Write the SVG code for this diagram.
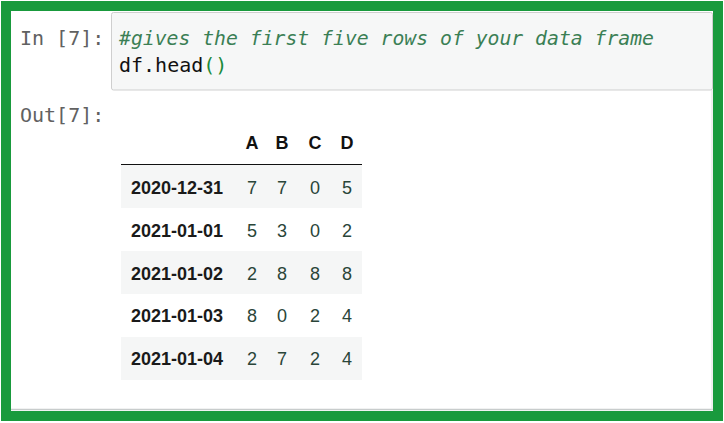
<svg xmlns="http://www.w3.org/2000/svg" width="724" height="423" viewBox="0 0 724 423">
<style>
.prompt{font-family:"DejaVu Sans Mono","Liberation Mono",monospace;font-size:20px;fill:#616161}
.code{font-family:"DejaVu Sans Mono","Liberation Mono",monospace;font-size:20px;fill:#111}
.cmt{fill:#3b7f55;font-style:italic}
.par{fill:#1a8a3a}
.idx{font-family:"Liberation Sans",Arial,sans-serif;font-size:18px;font-weight:bold;fill:#1a1a1a}
.hdr{font-family:"Liberation Sans",Arial,sans-serif;font-size:18px;font-weight:bold;fill:#111;text-anchor:middle}
.val{font-family:"Liberation Sans",Arial,sans-serif;font-size:18px;fill:#2a4539;text-anchor:middle}
.shade{fill:#f5f6f6}
</style>
<rect x="0" y="0" width="724" height="423" fill="#ffffff"/>
<g id="frame">
<rect x="6" y="6" width="712" height="410" fill="#ffffff" stroke="#199a3d" stroke-width="10"/>
<line x1="11" y1="409.5" x2="713" y2="409.5" stroke="#c8cccc" stroke-width="1.5"/>
<line x1="712" y1="90" x2="712" y2="410" stroke="#e0e0e0" stroke-width="1"/>
</g>
<g id="input-cell">
<text class="prompt" x="20" y="45">In [7]:</text>
<rect x="111.5" y="12.5" width="601" height="77.5" rx="2" fill="#f6f7f7" stroke="#cfcfcf" stroke-width="1"/>
<text class="code cmt" x="119" y="44.5" textLength="535" lengthAdjust="spacingAndGlyphs">#gives the first five rows of your data frame</text>
<text class="code" x="119" y="71.5">df.head<tspan class="par">()</tspan></text>
</g>
<g id="output-cell">
<text class="prompt" x="20" y="122">Out[7]:</text>
</g>
<g id="table">
<rect class="shade" x="121" y="165" width="241" height="43"/>
<rect class="shade" x="121" y="251" width="241" height="43"/>
<rect class="shade" x="121" y="337" width="241" height="43"/>
<line x1="121" y1="164.5" x2="362" y2="164.5" stroke="#111" stroke-width="1.2"/>
<text class="hdr" x="252" y="149">A</text>
<text class="hdr" x="282" y="149">B</text>
<text class="hdr" x="315" y="149">C</text>
<text class="hdr" x="347" y="149">D</text>
<g id="row1">
<text class="idx" x="131" y="194">2020-12-31</text>
<text class="val" x="252" y="194">7</text><text class="val" x="282" y="194">7</text><text class="val" x="315" y="194">0</text><text class="val" x="347" y="194">5</text>
</g>
<g id="row2">
<text class="idx" x="131" y="237">2021-01-01</text>
<text class="val" x="252" y="237">5</text><text class="val" x="282" y="237">3</text><text class="val" x="315" y="237">0</text><text class="val" x="347" y="237">2</text>
</g>
<g id="row3">
<text class="idx" x="131" y="279.5">2021-01-02</text>
<text class="val" x="252" y="279.5">2</text><text class="val" x="282" y="279.5">8</text><text class="val" x="315" y="279.5">8</text><text class="val" x="347" y="279.5">8</text>
</g>
<g id="row4">
<text class="idx" x="131" y="322">2021-01-03</text>
<text class="val" x="252" y="322">8</text><text class="val" x="282" y="322">0</text><text class="val" x="315" y="322">2</text><text class="val" x="347" y="322">4</text>
</g>
<g id="row5">
<text class="idx" x="131" y="365">2021-01-04</text>
<text class="val" x="252" y="365">2</text><text class="val" x="282" y="365">7</text><text class="val" x="315" y="365">2</text><text class="val" x="347" y="365">4</text>
</g>
</g>
</svg>
